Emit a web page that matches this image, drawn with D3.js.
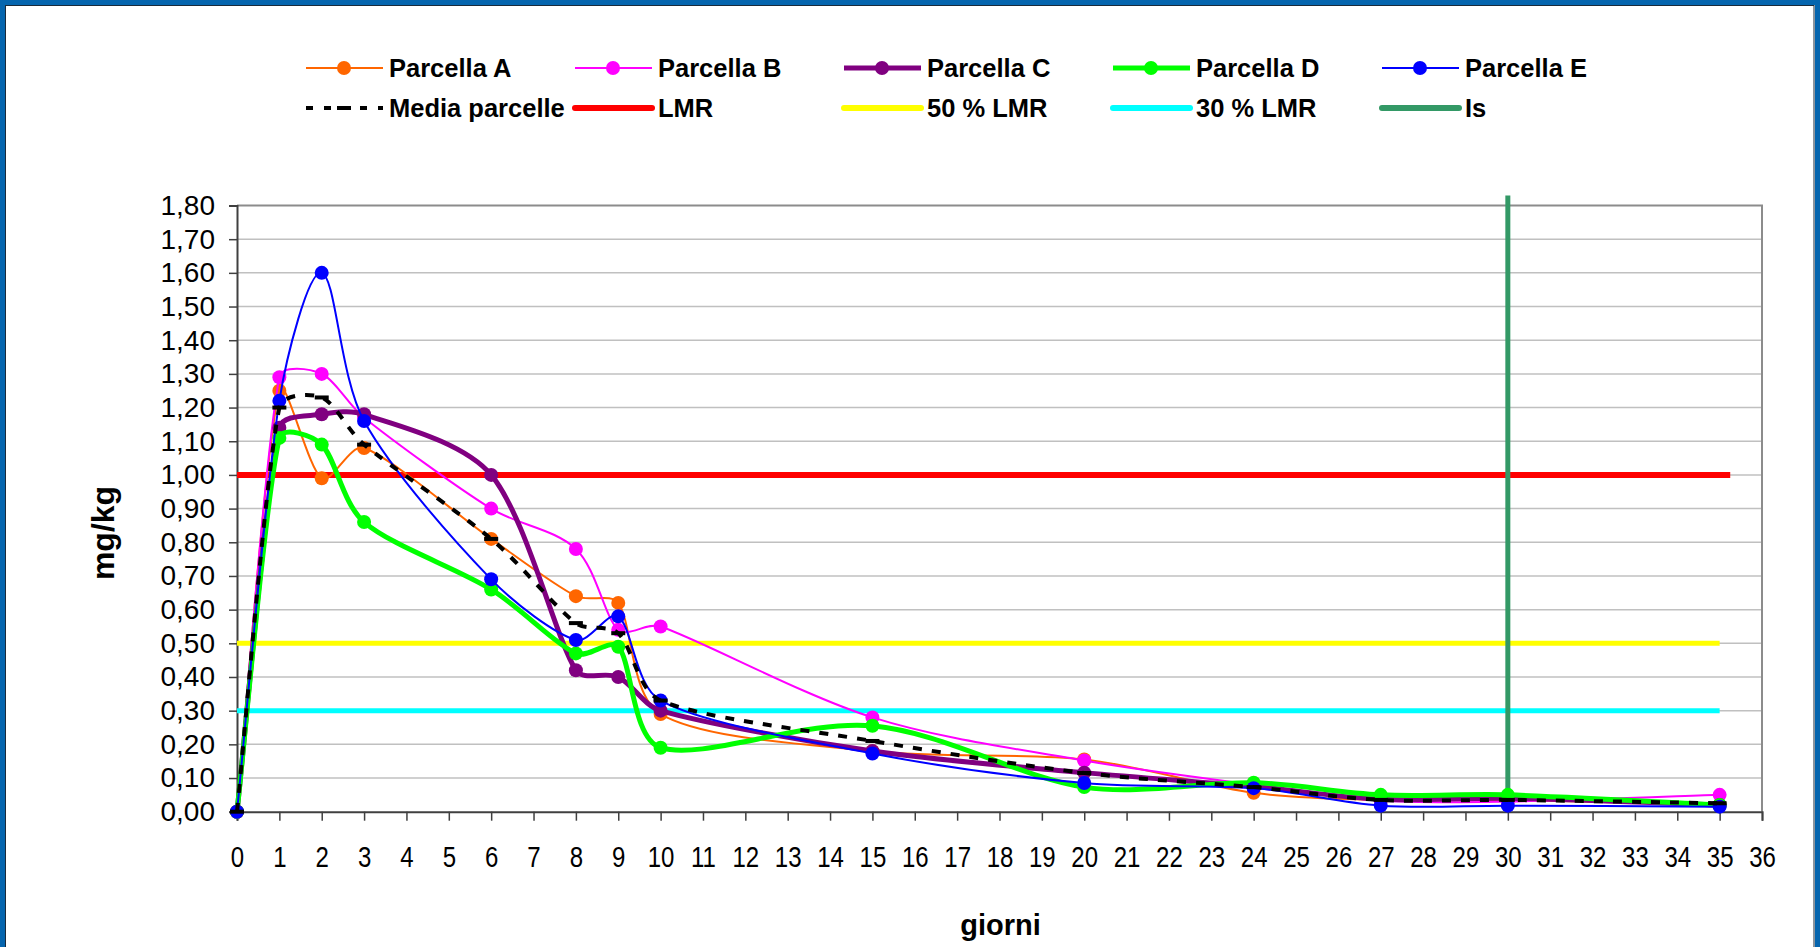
<!DOCTYPE html>
<html>
<head>
<meta charset="utf-8">
<script src="https://cdn.jsdelivr.net/npm/d3@7"></script>
<style>
  html, body { margin: 0; padding: 0; background: #ffffff; overflow: hidden; }
  svg { display: block; }
  text { font-family: "Liberation Sans", Arial, sans-serif; fill: #000; }
</style>
</head>
<body>
<svg id="chart" width="1820" height="947"></svg>
<script>
// ---------- data ----------
const days = [0, 1, 2, 3, 6, 8, 9, 10, 15, 20, 24, 27, 30, 35];
const parcellaA = [0, 1.25, 0.99, 1.08, 0.81, 0.64, 0.62, 0.29, 0.18, 0.155, 0.056, 0.035, 0.035, 0.02];
const parcellaB = [0, 1.29, 1.30, 1.17, 0.90, 0.78, 0.54, 0.55, 0.28, 0.152, 0.08, 0.033, 0.03, 0.05];
const parcellaC = [0, 1.14, 1.18, 1.18, 1.00, 0.42, 0.40, 0.30, 0.18, 0.116, 0.075, 0.037, 0.04, 0.02];
const parcellaD = [0, 1.11, 1.09, 0.86, 0.66, 0.47, 0.49, 0.19, 0.255, 0.073, 0.086, 0.05, 0.05, 0.02];
const parcellaE = [0, 1.22, 1.60, 1.16, 0.69, 0.51, 0.58, 0.33, 0.173, 0.085, 0.07, 0.018, 0.018, 0.015];
const mediaParcelle = [0, 1.20, 1.23, 1.09, 0.81, 0.56, 0.53, 0.33, 0.21, 0.115, 0.073, 0.035, 0.035, 0.025];

const refNames = ["LMR", "50 % LMR", "30 % LMR"];
const refValues = [1.00, 0.50, 0.30];
const refStart = [0, 0, 0];
const refEnd = [35.25, 35, 35];
const isDay = 30;
const isRange = [0, 1.83];

const xTicks = d3.range(0, 37);           // 0..36
const yTicks = [0, 0.1, 0.2, 0.3, 0.4, 0.5, 0.6, 0.7, 0.8, 0.9, 1.0, 1.1, 1.2, 1.3, 1.4, 1.5, 1.6, 1.7, 1.8];
const xTitle = "giorni";
const yTitle = "mg/kg";

const seriesNames = ["Parcella A", "Parcella B", "Parcella C", "Parcella D", "Parcella E"];
const seriesValues = [parcellaA, parcellaB, parcellaC, parcellaD, parcellaE];
const seriesColors = ["#FF6600", "#FF00FF", "#800080", "#00FF00", "#0000FF"];
const seriesWidths = [2, 2, 5, 5, 2];
const refColors = ["#FF0000", "#FFFF00", "#00FFFF"];
const isColor = "#339966";

// ---------- layout ----------
const svg = d3.select("#chart");
const L = 237, R = 1762, T = 205.5, B = 811.7;
const x = d3.scaleLinear().domain([0, 36]).range([L, R]);
const y = d3.scaleLinear().domain([0, 1.8]).range([B, T]);

// outer frame
svg.append("rect").attr("x", 0).attr("y", 0).attr("width", 1820).attr("height", 947).attr("fill", "#fff");
svg.append("rect").attr("x", 2.5).attr("y", 2.5).attr("width", 1815).attr("height", 1000)
  .attr("fill", "none").attr("stroke", "#0565ae").attr("stroke-width", 5);
svg.append("rect").attr("x", 5.5).attr("y", 5.5).attr("width", 1808.5).attr("height", 1000)
  .attr("fill", "none").attr("stroke", "#1a2a3a").attr("stroke-width", 1);

// gridlines
svg.append("g").selectAll("line").data(yTicks.filter(v => v > 0 && v < 1.8)).join("line")
  .attr("x1", L).attr("x2", R).attr("y1", d => y(d)).attr("y2", d => y(d))
  .attr("stroke", "#c0c0c0").attr("stroke-width", 1.5);

// plot border (top/right)
svg.append("path").attr("d", `M${L},${T}H${R}V${B}`).attr("fill", "none")
  .attr("stroke", "#8c8c8c").attr("stroke-width", 2);

// y axis
const yAxis = d3.axisLeft(y).tickValues(yTicks).tickSize(8).tickPadding(14)
  .tickFormat(d => d.toFixed(2).replace(".", ","));
const gy = svg.append("g").attr("transform", `translate(${L},0)`).call(yAxis);
gy.select(".domain").attr("stroke", "#404040").attr("stroke-width", 2);
gy.selectAll(".tick line").attr("stroke", "#404040").attr("stroke-width", 1.5);
gy.selectAll(".tick text").style("font-size", "28px").style("font-family", "Liberation Sans, Arial, sans-serif").attr("fill", "#000");

// x axis
const xAxis = d3.axisBottom(x).tickValues(xTicks).tickSize(9).tickPadding(25)
  .tickFormat(d => String(d));
const gx = svg.append("g").attr("transform", `translate(0,${B})`).call(xAxis);
gx.select(".domain").attr("stroke", "#404040").attr("stroke-width", 2);
gx.selectAll(".tick line").attr("stroke", "#404040").attr("stroke-width", 1.5);
gx.selectAll(".tick text").style("font-size", "30px").style("font-family", "Liberation Sans, Arial, sans-serif")
  .attr("fill", "#000").attr("transform", "scale(0.8,1)");

// axis titles
svg.append("text").attr("x", (L + R) / 2 + 1).attr("y", 935).attr("text-anchor", "middle")
  .style("font-size", "29px").style("font-weight", "bold").text(xTitle);
svg.append("text").attr("transform", "translate(114,533) rotate(-90)").attr("text-anchor", "middle")
  .style("font-size", "32px").style("font-weight", "bold").text(yTitle);

// reference lines (drawn beneath series)
refValues.forEach((v, i) => {
  svg.append("line").attr("x1", x(refStart[i])).attr("x2", x(refEnd[i]))
    .attr("y1", y(v)).attr("y2", y(v)).attr("stroke", refColors[i]).attr("stroke-width", i === 0 ? 6 : 5);
});
svg.append("line").attr("x1", x(isDay)).attr("x2", x(isDay)).attr("y1", y(isRange[0])).attr("y2", y(isRange[1]))
  .attr("stroke", isColor).attr("stroke-width", 5);

// Excel-like smoothed line: Bezier through points, control arms limited by adjacent segment lengths
function smoothPath(vals) {
  const P = vals.map((v, i) => [x(days[i]), y(v)]);
  const p = d3.path();
  const dist = (a, b) => Math.hypot(b[0] - a[0], b[1] - a[1]);
  const f = 1 / 6;
  p.moveTo(P[0][0], P[0][1]);
  for (let i = 0; i < P.length - 1; i++) {
    const p0 = P[i - 1] || P[i], p1 = P[i], p2 = P[i + 1], p3 = P[i + 2] || P[i + 1];
    const d01 = dist(p0, p1), d12 = dist(p1, p2), d23 = dist(p2, p3);
    const f1 = f * Math.min(1, (d01 + d12) > 0 ? 2 * d12 / (d01 + d12) : 1);
    const f2 = f * Math.min(1, (d12 + d23) > 0 ? 2 * d12 / (d12 + d23) : 1);
    const c1 = [p1[0] + f1 * (p2[0] - p0[0]), p1[1] + f1 * (p2[1] - p0[1])];
    const c2 = [p2[0] - f2 * (p3[0] - p1[0]), p2[1] - f2 * (p3[1] - p1[1])];
    p.bezierCurveTo(c1[0], c1[1], c2[0], c2[1], p2[0], p2[1]);
  }
  return p.toString();
}

// series
seriesValues.forEach((vals, s) => {
  const g = svg.append("g");
  g.append("path").attr("d", smoothPath(vals)).attr("fill", "none")
    .attr("stroke", seriesColors[s]).attr("stroke-width", seriesWidths[s]).attr("stroke-linejoin", "round");
  g.selectAll("circle").data(vals).join("circle")
    .attr("cx", (d, i) => x(days[i])).attr("cy", d => y(d)).attr("r", 7).attr("fill", seriesColors[s]);
});
// media
const gm = svg.append("g");
gm.append("path").attr("d", smoothPath(mediaParcelle)).attr("fill", "none")
  .attr("stroke", "#000").attr("stroke-width", 4).attr("stroke-dasharray", "9,10");
gm.selectAll("rect").data(mediaParcelle).join("rect")
  .attr("x", (d, i) => x(days[i]) - 7).attr("y", d => y(d) - 2).attr("width", 14).attr("height", 4).attr("fill", "#000");

// ---------- legend ----------
const legX = [306, 575, 844, 1113, 1382];
const row1 = 68, row2 = 108;
const lg = svg.append("g");
const fs = "25.5px";
seriesNames.forEach((n, i) => {
  lg.append("line").attr("x1", legX[i]).attr("x2", legX[i] + 77).attr("y1", row1).attr("y2", row1)
    .attr("stroke", seriesColors[i]).attr("stroke-width", seriesWidths[i]);
  lg.append("circle").attr("cx", legX[i] + 38).attr("cy", row1).attr("r", 7).attr("fill", seriesColors[i]);
  lg.append("text").attr("x", legX[i] + 83).attr("y", row1 + 9).style("font-size", fs).style("font-weight", "bold").text(n);
});
// media legend
lg.append("line").attr("x1", legX[0]).attr("x2", legX[0] + 77).attr("y1", row2).attr("y2", row2)
  .attr("stroke", "#000").attr("stroke-width", 4).attr("stroke-dasharray", "7,11");
lg.append("rect").attr("x", legX[0] + 31).attr("y", row2 - 2).attr("width", 14).attr("height", 4).attr("fill", "#000");
lg.append("text").attr("x", legX[0] + 83).attr("y", row2 + 9).style("font-size", fs).style("font-weight", "bold").text("Media parcelle");
refNames.forEach((n, i) => {
  lg.append("line").attr("x1", legX[i + 1]).attr("x2", legX[i + 1] + 77).attr("y1", row2).attr("y2", row2)
    .attr("stroke", refColors[i]).attr("stroke-width", 6).attr("stroke-linecap", "round");
  lg.append("text").attr("x", legX[i + 1] + 83).attr("y", row2 + 9).style("font-size", fs).style("font-weight", "bold").text(n);
});
lg.append("line").attr("x1", legX[4]).attr("x2", legX[4] + 77).attr("y1", row2).attr("y2", row2)
  .attr("stroke", isColor).attr("stroke-width", 6).attr("stroke-linecap", "round");
lg.append("text").attr("x", legX[4] + 83).attr("y", row2 + 9).style("font-size", fs).style("font-weight", "bold").text("Is");
</script>
</body>
</html>
